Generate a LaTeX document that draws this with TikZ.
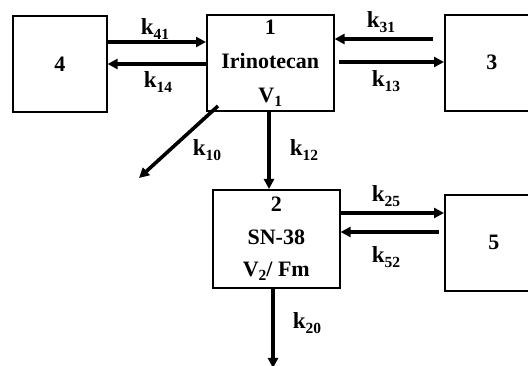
\documentclass[tikz,border=0pt]{standalone}
\usepackage{fontspec}
\setmainfont{Liberation Serif}
\usetikzlibrary{arrows.meta}
\newcommand\sbs[1]{\raisebox{-0.4ex}{\fontsize{15.5}{15.5}\selectfont #1}}
\tikzset{
  box/.style={draw, line width=1.6pt, minimum width=94pt, minimum height=96pt, anchor=north west, inner sep=0pt},
  txt/.style={font=\fontsize{22}{34}\selectfont\bfseries, align=center, inner sep=0pt},
  lab/.style={font=\fontsize{23}{23}\selectfont\bfseries, inner sep=0pt},
  arr/.style={line width=3.6pt, -{Triangle[length=10pt,width=10pt]}},
}
\begin{document}
\begin{tikzpicture}[x=1pt,y=-1pt]
\useasboundingbox (0,0) rectangle (528,366);
\node[box] (b4) at (12,15) {};
\node[box, minimum width=127pt] (b1) at (206,14) {};
\node[box] (b3) at (444,14) {};
\node[box, minimum width=127pt, minimum height=98pt] (b2) at (212,189) {};
\node[box, minimum width=98pt] (b5) at (444,194) {};
\node[txt] (t4) at (b4.center) {4};
\node[txt] (t3) at ([xshift=0pt]b3.center) {3};
\node[txt] (t5) at (b5.center) {5};
\node[txt] (t1) at (b1.center) {1\\Irinotecan\\V\sbs{1}};
\node[txt, font=\fontsize{22}{32.5}\selectfont\bfseries] (t2) at (b2.center) {2\\SN-38\\V\sbs{2}/ Fm};
% arrows
\draw[arr] (b4.east |- 0,42) -- (b1.west |- 0,42);
\draw[arr] (b1.west |- 0,64) -- (b4.east |- 0,64);
\draw[arr] ([xshift=-11pt]b3.west |- 0,39) -- (b1.east |- 0,39);
\draw[arr] ([xshift=4pt]b1.east |- 0,62) -- (b3.west |- 0,62);
\coordinate (e10) at (139,178);
\draw[arr] (218,106) -- (e10);
\draw[arr] (b1.south -| 269,0) -- (b2.north -| 269,0);
\coordinate (e20) at (273,368);
\draw[arr] (b2.south -| 273,0) -- (e20);
\draw[arr] (b2.east |- 0,213) -- (b5.west |- 0,213);
\draw[arr] ([xshift=-5pt]b5.west |- 0,232) -- (b2.east |- 0,232);
% labels
\node[lab] (l41) at (155,29) {k\sbs{41}};
\node[lab] (l14) at (158,82) {k\sbs{14}};
\node[lab] (l31) at (381,22) {k\sbs{31}};
\node[lab] (l13) at (386,81) {k\sbs{13}};
\node[lab] (l10) at (207,150) {k\sbs{10}};
\node[lab] (l12) at (304,150) {k\sbs{12}};
\node[lab] (l25) at (386,196) {k\sbs{25}};
\node[lab] (l52) at (386,257) {k\sbs{52}};
\node[lab] (l20) at (307,323) {k\sbs{20}};
\end{tikzpicture}
\end{document}
